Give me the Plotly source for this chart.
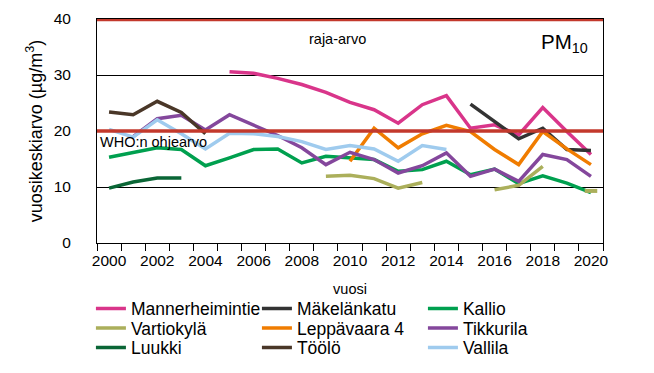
import plotly.graph_objects as go

# ---------------- data ----------------
years = list(range(2000, 2021))
tick_years = list(range(2000, 2021, 2))

mannerheimintie = [None, None, None, None, None, 30.6, 30.3, 29.4, 28.3, 26.9, 25.1,
                   23.8, 21.4, 24.7, 26.3, 20.5, 21.1, 19.3, 24.2, 19.9, 15.8]
makelankatu = [None] * 15 + [24.8, 21.7, 18.6, 20.5, 16.7, 16.5]
kallio = [15.3, 16.2, 17.0, 16.7, 13.8, 15.2, 16.7, 16.8, 14.3, 15.5, 15.2,
          14.9, 12.8, 13.1, 14.6, 12.2, 13.2, 10.6, 12.0, 10.7, 9.0]
vartiokyla = [None] * 9 + [11.9, 12.1, 11.5, 9.8, 10.8, None, None, 9.5, 10.3, 13.7, None, 9.3]
leppavaara = [None] * 10 + [14.6, 20.5, 17.0, 19.5, 21.0, 19.9, 16.7, 14.0, 19.9, 16.8, 14.0]
tikkurila = [None, 19.0, 22.2, 22.8, 20.2, 22.9, 21.1, 19.2, 17.0, 14.0, 16.2,
             14.9, 12.5, 13.8, 16.1, 11.9, 13.2, 11.0, 15.8, 14.9, 11.9]
luukki = [9.8, 10.9, 11.6, 11.6] + [None] * 17
toolo = [23.4, 22.9, 25.3, 23.3, 19.5] + [None] * 16
vallila = [20.3, 18.9, 22.0, 19.5, 16.8, 19.6, 19.5, 19.0, 18.1, 16.7, 17.4,
           16.8, 14.6, 17.4, 16.7] + [None] * 6

raja_arvo = 40
who_ohjearvo = 20

series = [
    ("Mannerheimintie", mannerheimintie, "#D9358A", "legend"),
    ("Mäkelänkatu", makelankatu, "#333333", "legend"),
    ("Kallio", kallio, "#00A04F", "legend"),
    ("Vartiokylä", vartiokyla, "#ABAF5B", "legend2"),
    ("Leppävaara 4", leppavaara, "#F07C00", "legend2"),
    ("Tikkurila", tikkurila, "#84479C", "legend2"),
    ("Luukki", luukki, "#0A6636", "legend3"),
    ("Töölö", toolo, "#4A3728", "legend3"),
    ("Vallila", vallila, "#9FCBEE", "legend3"),
]

FONT = "Arial, Liberation Sans, sans-serif"

fig = go.Figure()
for name, vals, color, lg in series:
    fig.add_trace(go.Scatter(x=years, y=vals, name=name, mode="lines",
                             line=dict(color=color, width=3.5),
                             legend=lg, connectgaps=False))
    # isolated single points (no neighbours) drawn as short dashes
    iso_x, iso_y = [], []
    for i, v in enumerate(vals):
        if v is None:
            continue
        prev_ok = i > 0 and vals[i - 1] is not None
        next_ok = i < len(vals) - 1 and vals[i + 1] is not None
        if not prev_ok and not next_ok:
            iso_x.append(years[i])
            iso_y.append(v)
    if iso_x:
        fig.add_trace(go.Scatter(x=iso_x, y=iso_y, mode="markers", showlegend=False,
                                 legend=lg, hoverinfo="skip",
                                 marker=dict(symbol="line-ew", size=9,
                                             line=dict(color=color, width=4))))

fig.add_shape(type="line", xref="paper", x0=0, x1=1, yref="y", y0=raja_arvo, y1=raja_arvo,
              line=dict(color="#C3392C", width=4.3), layer="above")
fig.add_shape(type="line", xref="paper", x0=0, x1=1, yref="y", y0=who_ohjearvo, y1=who_ohjearvo,
              line=dict(color="#C3392C", width=3.3), layer="above")

fig.add_annotation(text="raja-arvo", xref="x", yref="y", x=2009.5, y=raja_arvo - 3.5,
                   showarrow=False, font=dict(family=FONT, size=14.5, color="black"))
fig.add_annotation(text="WHO:n ohjearvo", xref="paper", yref="y", x=0.001, y=who_ohjearvo - 1.9,
                   xanchor="left", showarrow=False, font=dict(family=FONT, size=14.5, color="black"))
fig.add_annotation(text="PM<sub>10</sub>", xref="paper", yref="y", x=0.975, y=raja_arvo - 4.3,
                   xanchor="right", showarrow=False, font=dict(family=FONT, size=20.5, color="black"))

leg_common = dict(orientation="h", xanchor="left", yanchor="middle", x=-0.012,
                  font=dict(family=FONT, size=17.5, color="black"),
                  bgcolor="rgba(0,0,0,0)", entrywidth=121, entrywidthmode="pixels",
                  itemwidth=30, tracegroupgap=0)

# page body has an 8px margin, so the figure is 8px smaller than the window
fig.update_layout(
    width=646, height=365,
    margin=dict(l=89, r=51, t=11, b=130, autoexpand=False),
    paper_bgcolor="white", plot_bgcolor="white",
    font=dict(family=FONT, color="black"),
    legend=dict(**leg_common, y=-0.293),
    legend2=dict(**leg_common, y=-0.380),
    legend3=dict(**leg_common, y=-0.467),
    xaxis=dict(range=[1999.5, 2020.5], tickmode="array", tickvals=tick_years,
               ticktext=[str(t) for t in tick_years], ticks="",
               tickfont=dict(family=FONT, size=15.5, color="black"),
               showline=True, linecolor="black", linewidth=1, mirror=True,
               showgrid=False, zeroline=False, ticklabelstandoff=3,
               minor=dict(ticks="outside", ticklen=7, tickcolor="black", tickwidth=1,
                          tickmode="linear", tick0=1999.5, dtick=1, showgrid=False),
               title=dict(text="vuosi", font=dict(family=FONT, size=14.5, color="black"),
                          standoff=16)),
    yaxis=dict(range=[0, 40], tickmode="linear", tick0=0, dtick=10,
               tickfont=dict(family=FONT, size=15.5, color="black"),
               showline=True, linecolor="black", linewidth=1, mirror=True,
               showgrid=True, gridcolor="black", gridwidth=1, zeroline=False,
               ticks="", ticklabelstandoff=22,
               title=dict(text="vuosikeskiarvo (µg/m<sup>3</sup>)",
                          font=dict(family=FONT, size=18, color="black"), standoff=6)),
)

fig.write_html("out.html")
